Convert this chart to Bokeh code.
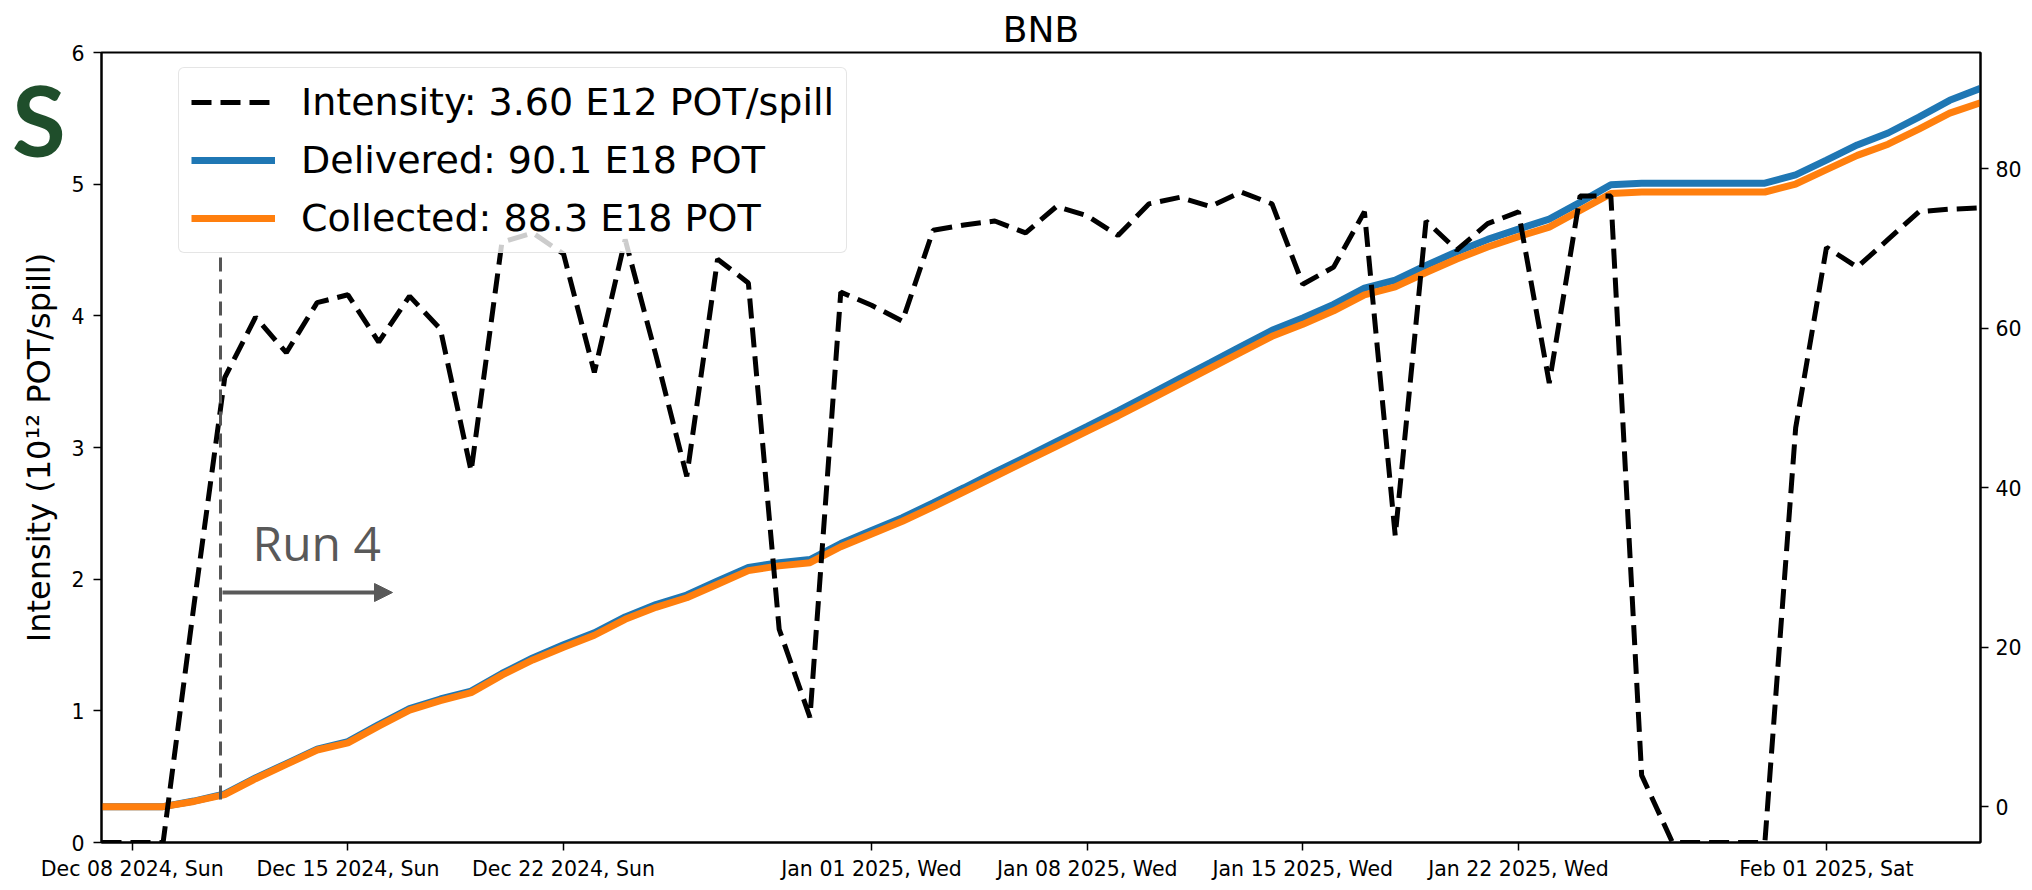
import pandas as pd
from bokeh.plotting import figure
from bokeh.layouts import column
from bokeh.models import (Range1d, LinearAxis, FixedTicker, DatetimeTickFormatter,
                          Legend, LegendItem, Label, Arrow, NormalHead, ColumnDataSource, Div)
from bokeh.embed import file_html
from bokeh.resources import INLINE

# ---------------- data (daily, Dec 07 2024 .. Feb 06 2025) ----------------
dates = pd.date_range("2024-12-07", "2025-02-06", freq="D")

intensity = [0, 0, 0, 1.80, 3.53, 3.99, 3.72, 4.10, 4.16, 3.80, 4.15, 3.90, 2.82,
             4.56, 4.63, 4.47, 3.57, 4.58, 3.70, 2.78, 4.43, 4.25, 1.62, 0.95, 4.18,
             4.08, 3.96, 4.65, 4.69, 4.72, 4.63, 4.83, 4.76, 4.61, 4.85, 4.90, 4.83,
             4.94, 4.85, 4.24, 4.37, 4.79, 2.33, 4.72, 4.50, 4.70, 4.79, 3.49, 4.91,
             4.91, 0.51, 0, 0, 0, 0, 3.15,
             4.52, 4.37, 4.58, 4.79, 4.81, 4.82]

delivered = [0, 0, 0, 0.7, 1.6, 3.6, 5.4, 7.2, 8.15, 10.3, 12.3, 13.5, 14.5,
             16.7, 18.65, 20.3, 21.8, 23.8, 25.35, 26.55, 28.3, 30.0, 30.6, 31.0, 33.0,
             34.65, 36.25, 38.1, 40.0, 41.95, 43.85, 45.8, 47.7, 49.65, 51.65, 53.7, 55.7,
             57.75, 59.75, 61.3, 63.0, 65.05, 66.05, 67.9, 69.6, 71.15, 72.45, 73.7, 75.8,
             78.0, 78.2, 78.2, 78.2, 78.2, 78.2, 79.25,
             81.1, 83.0, 84.5, 86.5, 88.6, 90.1]

collected = [0, 0, 0, 0.65, 1.5, 3.5, 5.3, 7.1, 8.0, 10.1, 12.1, 13.3, 14.3,
             16.5, 18.4, 20.0, 21.5, 23.5, 25.0, 26.2, 27.9, 29.6, 30.2, 30.6, 32.6,
             34.2, 35.8, 37.6, 39.5, 41.4, 43.3, 45.2, 47.1, 49.0, 51.0, 53.0, 55.0,
             57.0, 59.0, 60.5, 62.2, 64.2, 65.2, 67.0, 68.7, 70.2, 71.5, 72.7, 74.8,
             76.9, 77.1, 77.1, 77.1, 77.1, 77.1, 78.1,
             79.9, 81.7, 83.1, 85.0, 87.0, 88.3]

tick_dates = ["2024-12-08", "2024-12-15", "2024-12-22", "2025-01-01",
              "2025-01-08", "2025-01-15", "2025-01-22", "2025-02-01"]
left_ticks = [0, 1, 2, 3, 4, 5, 6]
right_ticks = [0, 20, 40, 60, 80]
legend_labels = ["Intensity: 3.60 E12 POT/spill",
                 "Delivered: 90.1 E18 POT",
                 "Collected: 88.3 E18 POT"]
title_text = "BNB"
ylabel_text = "Intensity (10\u00b9\u00b2 POT/spill)"
run_text = "Run 4"
logo_text = "S"

# ---------------- figure ----------------
fig = figure(width=2032, height=884, x_axis_type="datetime",
             x_range=Range1d(pd.Timestamp("2024-12-07"), pd.Timestamp("2025-02-06")),
             y_range=Range1d(0, 6),
             output_backend="svg", toolbar_location=None,
             min_border_left=101, min_border_right=52, min_border_top=52, min_border_bottom=42)
fig.extra_y_ranges = {"pot": Range1d(-4.5, 94.6)}
fig.grid.visible = False
fig.outline_line_color = "black"
fig.outline_line_width = 2
fig.outline_line_alpha = 1
fig.background_fill_color = "white"
fig.border_fill_color = "white"

fig.title.text = title_text
fig.title.align = "center"
fig.title.text_font = "DejaVu Sans"
fig.title.text_font_size = "36px"
fig.title.text_font_style = "normal"
fig.title.text_color = "black"
fig.title.standoff = 6

src = ColumnDataSource(dict(date=dates, intensity=intensity,
                            delivered=delivered, collected=collected))

r_del = fig.line("date", "delivered", source=src, y_range_name="pot",
                 line_color="#1f77b4", line_width=7)
r_col = fig.line("date", "collected", source=src, y_range_name="pot",
                 line_color="#ff7f0e", line_width=7)
r_int = fig.line("date", "intensity", source=src, line_color="black",
                 line_width=5, line_dash="20 9")

# axes
fig.xaxis.ticker = FixedTicker(ticks=[pd.Timestamp(d).value / 1e6 for d in tick_dates])
fmt = "%b %d %Y, %a"
fig.xaxis.formatter = DatetimeTickFormatter(
    microseconds=fmt, milliseconds=fmt, seconds=fmt, minsec=fmt, minutes=fmt,
    hourmin=fmt, hours=fmt, days=fmt, months=fmt, years=fmt)
fig.yaxis.ticker = FixedTicker(ticks=left_ticks)
fig.yaxis.axis_label = ylabel_text
fig.yaxis.axis_label_text_font = "DejaVu Sans"
fig.yaxis.axis_label_text_font_size = "32px"
fig.yaxis.axis_label_text_font_style = "normal"
fig.yaxis.axis_label_text_color = "black"
fig.yaxis.axis_label_standoff = 10

right = LinearAxis(y_range_name="pot", ticker=FixedTicker(ticks=right_ticks))
fig.add_layout(right, "right")

for ax, so in [(fig.xaxis[0], 6), (fig.yaxis[0], 9), (right, 7)]:
    ax.major_label_text_font = "DejaVu Sans"
    ax.major_label_text_font_size = "20.5px"
    ax.major_label_text_color = "black"
    ax.axis_line_color = "black"
    ax.axis_line_width = 2
    ax.major_tick_line_color = "black"
    ax.major_tick_line_width = 1.5
    ax.major_tick_out = 8
    ax.major_tick_in = 0
    ax.minor_tick_line_color = None
    ax.major_label_standoff = so

# legend
legend = Legend(items=[LegendItem(label=legend_labels[0], renderers=[r_int]),
                       LegendItem(label=legend_labels[1], renderers=[r_del]),
                       LegendItem(label=legend_labels[2], renderers=[r_col])],
                location=(77, 589))
legend.label_text_font = "DejaVu Sans"
legend.label_text_font_size = "38px"
legend.label_text_color = "black"
legend.glyph_width = 84
legend.glyph_height = 44
legend.label_height = 44
legend.spacing = 14
legend.padding = 12
legend.label_standoff = 26
legend.border_line_color = "#cccccc"
legend.border_line_width = 1.5
legend.background_fill_color = "white"
legend.background_fill_alpha = 0.8
try:
    legend.border_radius = 6
except Exception:
    pass
fig.add_layout(legend)

# overlays
fig.add_layout(Label(x=151, y=300, x_units="screen", y_units="screen", text=run_text,
                     text_font="Open Sans", text_font_size="48px", text_align="left",
                     text_baseline="alphabetic", text_color="#595959"))
fig.add_layout(Arrow(x_start=119, y_start=43, x_end=119, y_end=589,
                     start_units="screen", end_units="screen", end=None,
                     line_color="#555555", line_width=3, line_dash="14 8"))
fig.add_layout(Arrow(x_start=121, y_start=250, x_end=291, y_end=250,
                     start_units="screen", end_units="screen",
                     end=NormalHead(size=18, fill_color="#595959", line_color="#595959"),
                     line_color="#595959", line_width=4))

# logo sitting in the left margin (outside the plot frame)
logo = Div(text=logo_text, styles={"position": "absolute", "left": "7px", "top": "65px",
                                   "font-family": "Lato", "font-size": "98px",
                                   "font-weight": "bold",
                                   "line-height": "1", "color": "#1f4e2b", "z-index": "10"})

p = column(fig, logo)
open("out.html", "w").write(file_html(p, INLINE))
